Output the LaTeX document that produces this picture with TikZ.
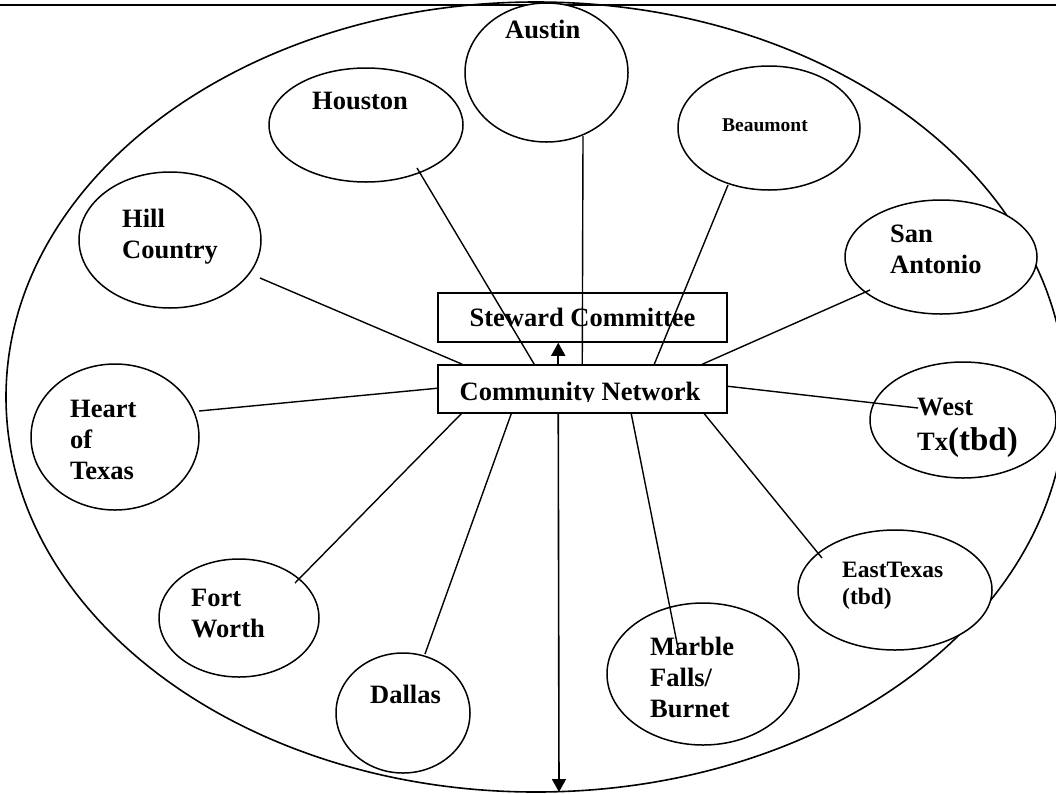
\documentclass[tikz,border=0pt]{standalone}
\usepackage{fontspec}
\setmainfont{Liberation Serif}
\usetikzlibrary{arrows.meta,shapes.geometric,calc}
\begin{document}
\begin{tikzpicture}[x=1pt,y=-1pt,
  region/.style={draw, ellipse, line width=1.5pt, fill=white, inner sep=0pt},
  outer/.style={draw, ellipse, line width=1.6pt, inner sep=0pt},
  box/.style={draw, rectangle, line width=1.5pt, fill=white, minimum width=289pt, inner sep=0pt, font=\fontsize{26.5}{31}\selectfont\bfseries},
  link/.style={line width=1.4pt},
  arr/.style={line width=1.6pt, -{Triangle[width=14pt,length=13pt]}},
  lbl/.style={anchor=north west, inner sep=0pt, align=left, font=\fontsize{26.5}{31}\selectfont\bfseries},
  lblsmall/.style={anchor=north west, inner sep=0pt, align=left, font=\fontsize{23.5}{27}\selectfont\bfseries}
]
\useasboundingbox (0,0) rectangle (1056,793);
\clip (0,0) rectangle (1056,793);

% top rule
\coordinate (rl) at (0,5);
\coordinate (rr) at (1056,5);
\draw[line width=2.5pt] (rl) -- (rr);

% outer ellipse
\node[outer, minimum width=1060pt, minimum height=790pt] (big) at (536,397) {};

% regions
\node[region, minimum width=163pt, minimum height=139pt] (austin) at (546.5,72.5) {};
\node[region, minimum width=194pt, minimum height=114pt] (houston) at (366,125) {};
\node[region, minimum width=182pt, minimum height=124pt] (beaumont) at (769,128) {};
\node[region, minimum width=182pt, minimum height=136pt] (hill) at (170,240) {};
\node[region, minimum width=192pt, minimum height=114pt] (sanantonio) at (941,257) {};
\node[region, minimum width=168pt, minimum height=146pt] (heart) at (115,437) {};
\node[region, minimum width=186pt, minimum height=116pt] (west) at (963,420) {};
\node[region, minimum width=160pt, minimum height=118pt] (fort) at (239,618) {};
\node[region, minimum width=134pt, minimum height=120pt] (dallas) at (403,713) {};
\node[region, minimum width=192pt, minimum height=142pt] (marble) at (703,674) {};
\node[region, minimum width=194pt, minimum height=120pt] (east) at (895,590) {};

% boxes
\node[box, minimum height=49pt] (steward) at (582.5,317.5) {Steward Committee};
\node[box, minimum height=48pt] (net) at (582.5,389) {};
\begin{scope}
  \clip (440,367) rectangle (725,401);
  \node[font=\fontsize{26.5}{31}\selectfont\bfseries, anchor=base, inner sep=0pt] (net-text) at (580,400) {Community Network};
\end{scope}

% free ends of connectors
\coordinate (austin-e) at (583,136);
\coordinate (houston-e) at (417,168);
\coordinate (beaumont-e) at (728,185);
\coordinate (hill-e) at (260,278);
\coordinate (sa-e) at (870,290);
\coordinate (heart-e) at (199,411);
\coordinate (west-e) at (918,408);
\coordinate (fort-e) at (295,583);
\coordinate (dallas-e) at (425,654);
\coordinate (marble-e) at (678,648);
\coordinate (east-e) at (822,558);
\coordinate (down-e) at (559,792);

% connectors
\draw[link] (austin-e) -- ($(net.north west)+(145,0)$);
\draw[link] (houston-e) -- ($(net.north west)+(97,0)$);
\draw[link] (beaumont-e) -- ($(net.north west)+(217,0)$);
\draw[link] (hill-e) -- ($(net.north west)+(25,0)$);
\draw[link] (sa-e) -- ($(net.north west)+(265,0)$);
\draw[link] (heart-e) -- ($(net.north west)+(0,24)$);
\draw[link] (west-e) -- ($(net.north east)+(0,22)$);
\draw[link] (fort-e) -- ($(net.south west)+(24,0)$);
\draw[link] (dallas-e) -- ($(net.south west)+(74,0)$);
\draw[link] (marble-e) -- ($(net.south west)+(194,0)$);
\draw[link] (east-e) -- ($(net.south west)+(267,0)$);

% arrows
\draw[arr] ($(net.north west)+(121,0)$) -- ($(steward.south west)+(121,0)$);
\draw[arr] ($(net.south west)+(121,0)$) -- (down-e);

% labels
\node[lbl] (t-austin) at (505,20) {Austin};
\node[lbl] (t-houston) at (312,92) {Houston};
\node[lbl, font=\fontsize{19.5}{23}\selectfont\bfseries] (t-beaumont) at (722,119) {Beaumont};
\node[lbl] (t-hill) at (122,209) {Hill\\Country};
\node[lbl] (t-sa) at (890,225) {San\\Antonio};
\node[lbl] (t-heart) at (70,400) {Heart\\of\\Texas};
\node[lbl] (t-west) at (917,398) {West\\[4pt]Tx{\fontsize{33}{38}\selectfont(tbd)}};
\node[lbl] (t-fort) at (191,589) {Fort\\Worth};
\node[lbl] (t-dallas) at (370,685) {Dallas};
\node[lbl] (t-marble) at (650,637) {Marble\\Falls/\\Burnet};
\node[lblsmall] (t-east) at (842,562) {EastTexas\\(tbd)};
\end{tikzpicture}
\end{document}
